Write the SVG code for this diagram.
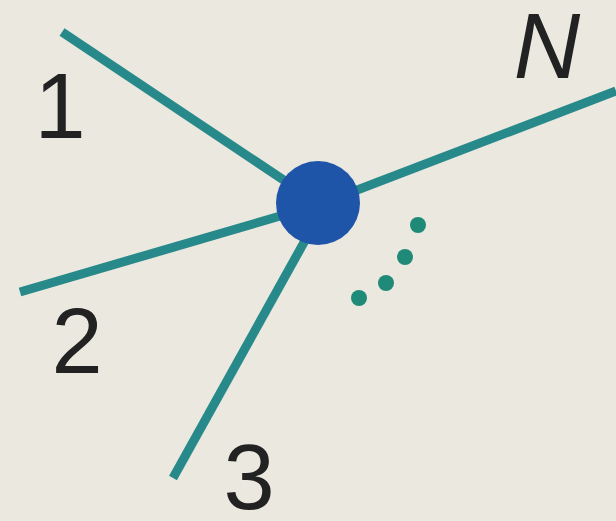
<svg xmlns="http://www.w3.org/2000/svg" width="616" height="521" viewBox="0 0 616 521">
<style>
.edge{stroke:#27898a;stroke-width:9;stroke-linecap:butt;fill:none}
.dot{fill:#1f8a78}
.lbl{font-family:"Liberation Sans","DejaVu Sans",sans-serif;font-size:92px;fill:#222;text-anchor:middle}
</style>
<rect width="616" height="521" fill="#ebe8e0"/>
<g id="connectors">
<line class="edge" x1="62" y1="32" x2="318" y2="203"/>
<line class="edge" x1="20" y1="292" x2="318" y2="205"/>
<line class="edge" x1="173" y1="478" x2="322" y2="210"/>
<line class="edge" x1="318" y1="205" x2="616" y2="91"/>
</g>
<g id="hub">
<circle cx="318" cy="203" r="42" fill="#1f55a8"/>
</g>
<g id="dots">
<circle class="dot" cx="418" cy="225" r="8"/>
<circle class="dot" cx="405" cy="257" r="8"/>
<circle class="dot" cx="386" cy="283" r="8"/>
<circle class="dot" cx="359" cy="298" r="8"/>
</g>
<g id="labels">
<text class="lbl" x="60" y="138">1</text>
<text class="lbl" x="77" y="373">2</text>
<text class="lbl" x="249" y="509">3</text>
<text class="lbl" x="547" y="78" font-style="italic">N</text>
</g>
</svg>
